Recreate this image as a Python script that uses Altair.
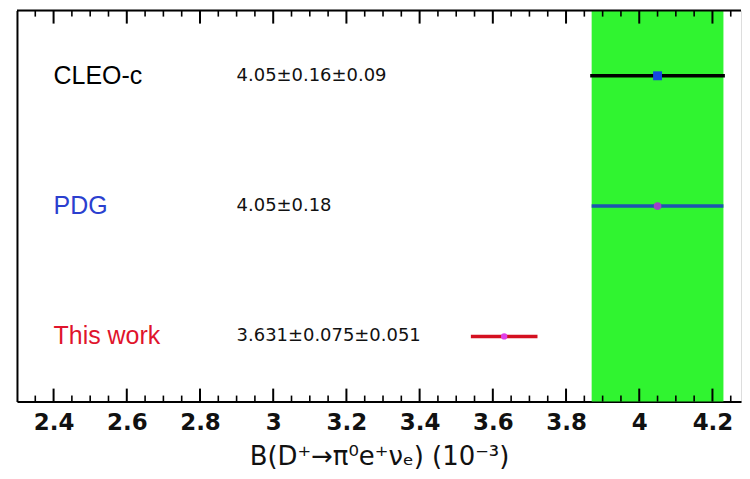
import altair as alt
import pandas as pd

# ---- data ----
experiments = ["CLEO-c", "PDG", "This work"]
central = [4.05, 4.05, 3.631]
err_low = [3.866, 3.87, 3.540]
err_high = [4.234, 4.23, 3.722]
rows = [2.5, 1.5, 0.5]
value_texts = ["4.05±0.16±0.09", "4.05±0.18", "3.631±0.075±0.051"]
band_low = [3.87]
band_high = [4.23]
major_ticks = [2.4, 2.6, 2.8, 3.0, 3.2, 3.4, 3.6, 3.8, 4.0, 4.2]
minor_ticks = [2.35, 2.45, 2.5, 2.55, 2.65, 2.7, 2.75, 2.85, 2.9, 2.95,
               3.05, 3.1, 3.15, 3.25, 3.3, 3.35, 3.45, 3.5, 3.55, 3.65,
               3.7, 3.75, 3.85, 3.9, 3.95, 4.05, 4.1, 4.15, 4.25]
x_domain = [2.3, 4.278]
y_domain = [0, 3]

# ---- styles ----
label_colors = ["#000000", "#2b3fcf", "#e0142c"]
line_colors = ["#000000", "#1c55b0", "#d41020"]
marker_colors = ["#1447e0", "#a040c8", "#e040e8"]
marker_shapes = ["square", "circle", "circle"]
marker_sizes = [80, 40, 45]
band_color = "#30f430"

W, H = 726, 392

df = pd.DataFrame({
    "experiment": experiments,
    "central": central,
    "lo": err_low,
    "hi": err_high,
    "row": rows,
    "vtext": value_texts,
})
band_df = pd.DataFrame({"lo": band_low, "hi": band_high})
major_df = pd.DataFrame({"tick": major_ticks})
minor_df = pd.DataFrame({"tick": minor_ticks})

xscale = alt.Scale(domain=x_domain, nice=False, zero=False)
yscale = alt.Scale(domain=y_domain, nice=False, zero=False)
xaxis = alt.Axis(
    values=major_ticks, format="~g", ticks=False, grid=False,
    domain=True, domainColor="#000000", domainWidth=2,
    labelFont="DejaVu Sans", labelFontWeight="bold", labelFontSize=23,
    labelColor="#111111", labelPadding=10,
    title="B(D⁺→π⁰e⁺νₑ) (10⁻³)", titleFont="DejaVu Sans",
    titleFontSize=26, titleFontWeight="normal", titleColor="#111111",
    titlePadding=9,
)
yaxis = alt.Axis(
    ticks=False, labels=False, grid=False, title=None,
    domain=True, domainColor="#000000", domainWidth=2,
)
X = lambda f: alt.X(f"{f}:Q", scale=xscale, axis=xaxis)
Y = lambda f: alt.Y(f"{f}:Q", scale=yscale, axis=yaxis)

band = alt.Chart(band_df).mark_rect(color=band_color).encode(
    x=X("lo"), x2="hi"
)

rules = alt.Chart(df).mark_rule(strokeWidth=3.5).encode(
    x=X("lo"), x2="hi", y=Y("row"),
    stroke=alt.Stroke("experiment:N", scale=alt.Scale(domain=experiments, range=line_colors), legend=None),
)

markers = alt.Chart(df).mark_point(filled=True, opacity=1).encode(
    x=X("central"), y=Y("row"),
    fill=alt.Fill("experiment:N", scale=alt.Scale(domain=experiments, range=marker_colors), legend=None),
    shape=alt.Shape("experiment:N", scale=alt.Scale(domain=experiments, range=marker_shapes), legend=None),
    size=alt.Size("experiment:N", scale=alt.Scale(domain=experiments, range=marker_sizes), legend=None),
)

labels = alt.Chart(df).mark_text(
    align="left", baseline="middle", font="Liberation Sans", fontSize=25
).encode(
    x=alt.datum(2.4, scale=xscale, axis=xaxis), y=Y("row"), text="experiment:N",
    color=alt.Color("experiment:N", scale=alt.Scale(domain=experiments, range=label_colors), legend=None),
)

values = alt.Chart(df).mark_text(
    align="left", baseline="middle", font="DejaVu Sans", fontSize=18, color="#111111"
).encode(
    x=alt.datum(2.9, scale=xscale, axis=xaxis), y=Y("row"), text="vtext:N",
)

def tick_layer(data, y0, y1, sw):
    return alt.Chart(data).mark_rule(color="#000000", strokeWidth=sw).encode(
        x=X("tick"), y=alt.value(y0), y2=alt.value(y1)
    )

ticks = [
    tick_layer(major_df, H, H - 13, 2),
    tick_layer(major_df, 0, 13, 2),
    tick_layer(minor_df, H, H - 6, 1.6),
    tick_layer(minor_df, 0, 6, 1.6),
]

top_line = alt.Chart(band_df).mark_rule(color="#000000", strokeWidth=2).encode(
    x=alt.value(0), x2=alt.value(W), y=alt.value(0)
)

chart = alt.layer(band, rules, markers, labels, values, *ticks, top_line).properties(
    width=W, height=H,
    padding={"left": 8, "top": 1, "right": 0, "bottom": 0},
).configure_view(stroke=None).configure(background="white")

chart.save("out.html", embed_options={"renderer": "svg", "actions": False})
